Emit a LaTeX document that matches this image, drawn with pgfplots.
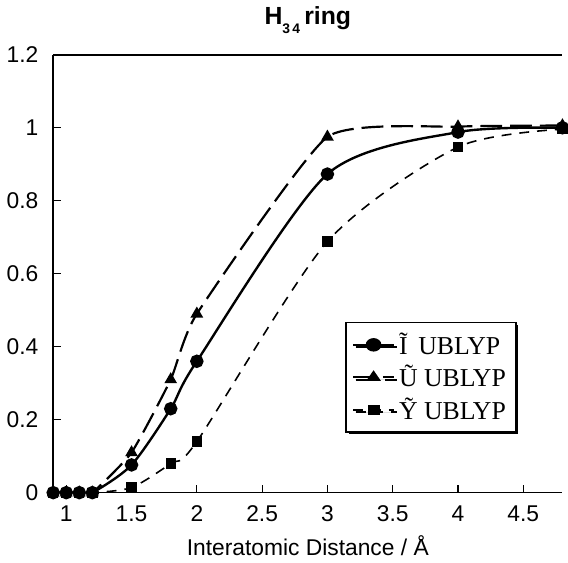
\documentclass[border=0pt]{standalone}
\usepackage{pgfplots}
\pgfplotsset{compat=1.18}
\usepackage{fontspec}
\setmainfont{Liberation Sans}
\newfontfamily\serif{Liberation Serif}
\usetikzlibrary{shadows}

\begin{document}
\begin{tikzpicture}
\begin{axis}[
  scale only axis, width=257pt, height=221pt,
  xmin=0.9, xmax=4.8, ymin=0, ymax=1.2,
  axis lines=left, axis line style={-, line width=0.8pt},
  xtick={1,1.5,2,2.5,3,3.5,4,4.5},
  xticklabels={1,1.5,2,2.5,3,3.5,4,4.5},
  ytick={0,0.2,0.4,0.6,0.8,1,1.2},
  yticklabels={0,0.2,0.4,0.6,0.8,1,1.2},
  tick align=inside, major tick length=4pt,
  tick style={line width=0.6pt, black},
  ticklabel style={font=\fontsize{11.5}{13}\selectfont},
  xticklabel style={yshift=-3pt},
  yticklabel style={xshift=-4pt},
  title={\textbf{H\raisebox{-0.7ex}{\scriptsize 3\,4}\,ring}},
  title style={font=\fontsize{12.5}{14}\selectfont, yshift=1pt},
  xlabel={Interatomic Distance / Å},
  xlabel style={font=\fontsize{11.5}{13}\selectfont, yshift=0pt},
  clip mode=individual,
  legend cell align=left,
  legend image post style={xscale=1.2},
  legend style={at={(0.91,0.39)}, anchor=north east,
    font=\serif\fontsize{13}{15}\selectfont, line width=0.8pt,
    draw=black, row sep=0pt, inner sep=3pt,
    drop shadow={shadow xshift=1.2pt, shadow yshift=-1.2pt, fill=black, opacity=1}},
]
\addplot[black, line width=1.2pt, smooth, tension=0.45,
  mark=*, mark size=2.8pt, mark options={solid}]
  coordinates {(0.9,0) (1.0,0) (1.1,0) (1.2,0) (1.5,0.076) (1.8,0.23)
               (2.0,0.36) (3.0,0.873) (4.0,0.988) (4.8,1.0)};
\addlegendentry{\~{I}\, UBLYP}
\addplot[black, line width=1.1pt, smooth, tension=0.3,
  dash pattern=on 11pt off 4pt,
  mark=triangle*, mark size=2.6pt, mark options={solid}]
  coordinates {(0.9,0) (1.0,0) (1.1,0) (1.2,0) (1.5,0.11) (1.8,0.31)
               (2.0,0.49) (3.0,0.975) (4.0,1.003) (4.8,1.006)};
\addlegendentry{Ũ UBLYP}
\addplot[black, line width=0.8pt, smooth, tension=0.45,
  dash pattern=on 5pt off 4pt,
  mark=square*, mark size=2.2pt, mark options={solid}]
  coordinates {(0.9,0) (1.0,0) (1.1,0) (1.2,0) (1.5,0.014) (1.8,0.08)
               (2.0,0.14) (3.0,0.688) (4.0,0.947) (4.8,0.996)};
\addlegendentry{Ỹ UBLYP}
\draw[line width=0.8pt] (rel axis cs:0,1) -- (rel axis cs:1,1);
\end{axis}
\end{tikzpicture}
\end{document}
